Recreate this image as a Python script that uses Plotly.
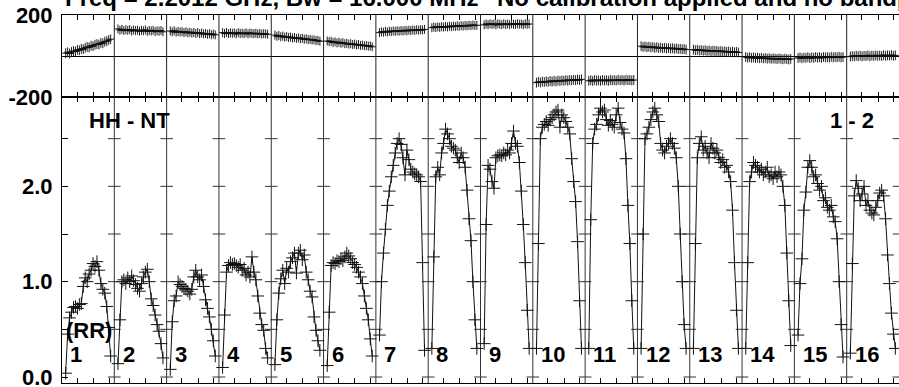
import plotly.graph_objects as go

# ---------------- data ----------------
if_labels = ["1", "2", "3", "4", "5", "6", "7", "8", "9", "10", "11", "12", "13", "14", "15", "16"]

amp_if1 = [0.04, 0.45, 0.62, 0.68, 0.73, 0.74, 0.72, 0.76, 0.77, 0.95, 1.04, 1.00, 1.08, 1.12, 1.19, 1.16, 1.21, 1.12, 0.98, 0.92, 0.88, 0.74, 0.52, 0.22]
amp_if2 = [0.14, 0.60, 1.00, 1.02, 0.98, 1.04, 1.00, 1.06, 1.01, 0.97, 0.93, 0.90, 0.98, 1.05, 1.10, 1.13, 1.00, 0.82, 0.75, 0.65, 0.55, 0.48, 0.35, 0.20]
amp_if3 = [0.08, 0.58, 0.80, 0.85, 1.00, 0.97, 0.95, 0.93, 0.92, 0.90, 0.87, 0.92, 1.05, 1.12, 1.05, 1.02, 1.07, 0.95, 0.81, 0.72, 0.63, 0.50, 0.38, 0.22]
amp_if4 = [0.10, 0.65, 1.10, 1.17, 1.20, 1.18, 1.19, 1.17, 1.15, 1.18, 1.12, 1.14, 1.07, 1.10, 1.05, 1.26, 1.10, 1.02, 0.85, 0.67, 0.55, 0.49, 0.30, 0.20]
amp_if5 = [0.13, 0.60, 0.88, 1.03, 1.12, 0.98, 1.14, 1.10, 1.21, 1.25, 1.30, 1.09, 1.30, 1.33, 1.23, 1.28, 1.10, 1.02, 0.90, 0.84, 0.63, 0.49, 0.38, 0.28]
amp_if6 = [0.12, 0.68, 1.17, 1.20, 1.19, 1.22, 1.21, 1.24, 1.22, 1.26, 1.30, 1.27, 1.24, 1.20, 1.18, 1.15, 1.10, 1.05, 0.98, 0.85, 0.72, 0.60, 0.40, 0.22]
amp_if7 = [0.44, 1.00, 1.30, 1.55, 1.80, 1.95, 2.10, 2.22, 2.35, 2.45, 2.50, 2.44, 2.30, 2.12, 2.38, 2.28, 2.18, 2.15, 2.13, 2.12, 2.10, 2.05, 1.20, 0.28]
amp_if8 = [0.30, 1.26, 2.10, 2.20, 2.12, 2.35, 2.45, 2.60, 2.55, 2.50, 2.42, 2.40, 2.38, 2.30, 2.25, 2.35, 2.30, 2.20, 1.96, 1.66, 1.43, 1.00, 0.60, 0.30]
amp_if9 = [0.35, 1.60, 2.22, 2.18, 2.05, 1.98, 2.30, 2.32, 2.33, 2.32, 2.35, 2.33, 2.38, 2.35, 2.45, 2.58, 2.45, 2.42, 2.25, 1.95, 1.60, 1.20, 0.70, 0.30]
amp_if10 = [0.30, 1.40, 2.50, 2.62, 2.65, 2.68, 2.64, 2.70, 2.72, 2.75, 2.78, 2.80, 2.62, 2.75, 2.72, 2.68, 2.62, 2.55, 2.29, 2.05, 1.84, 1.42, 0.80, 0.30]
amp_if11 = [0.30, 1.65, 2.45, 2.60, 2.65, 2.75, 2.82, 2.78, 2.80, 2.70, 2.64, 2.69, 2.65, 2.62, 2.75, 2.82, 2.67, 2.60, 2.56, 2.29, 1.80, 1.40, 0.80, 0.30]
amp_if12 = [0.30, 1.50, 2.50, 2.55, 2.62, 2.70, 2.78, 2.82, 2.75, 2.68, 2.45, 2.38, 2.35, 2.42, 2.45, 2.50, 2.45, 2.40, 2.30, 2.00, 1.50, 1.00, 0.55, 0.30]
amp_if13 = [0.30, 1.40, 2.30, 2.45, 2.52, 2.38, 2.42, 2.35, 2.30, 2.45, 2.40, 2.35, 2.38, 2.30, 2.25, 2.28, 2.20, 2.22, 2.15, 2.05, 1.75, 1.20, 0.70, 0.30]
amp_if14 = [0.30, 1.20, 2.05, 2.15, 2.25, 2.22, 2.20, 2.15, 2.18, 2.12, 2.15, 2.20, 2.10, 2.12, 2.08, 2.15, 2.10, 2.15, 2.12, 2.00, 1.80, 1.30, 0.80, 0.33]
amp_if15 = [0.44, 0.98, 1.24, 1.75, 1.94, 2.20, 2.27, 2.20, 2.10, 2.12, 2.03, 1.96, 2.00, 1.85, 1.88, 1.78, 1.75, 1.80, 1.68, 1.63, 1.45, 1.00, 0.55, 0.21]
amp_if16 = [0.25, 1.19, 1.90, 2.06, 1.98, 1.85, 1.92, 2.00, 1.80, 1.85, 1.75, 1.72, 1.70, 1.78, 1.85, 1.93, 1.96, 1.90, 1.66, 1.28, 0.98, 0.67, 0.45, 0.30]

phase_if1 = [14, 18, 12, 20, 24, 22, 30, 28, 35, 33, 40, 44, 42, 50, 48, 55, 58, 56, 64, 62, 70, 72, 78, 82]
phase_if2 = [132, 126, 130, 124, 128, 125, 129, 122, 127, 124, 126, 121, 125, 123, 127, 120, 124, 122, 125, 119, 123, 121, 124, 118]
phase_if3 = [122, 118, 123, 116, 120, 117, 119, 114, 118, 113, 116, 112, 115, 110, 114, 109, 112, 108, 110, 106, 109, 104, 107, 103]
phase_if4 = [114, 110, 115, 109, 113, 111, 112, 108, 114, 110, 111, 109, 113, 108, 112, 110, 109, 111, 108, 110, 107, 109, 108, 106]
phase_if5 = [102, 96, 100, 94, 97, 92, 95, 90, 92, 88, 90, 86, 88, 84, 86, 82, 84, 80, 81, 78, 79, 75, 76, 72]
phase_if6 = [73, 70, 72, 66, 69, 64, 67, 62, 65, 60, 62, 58, 60, 56, 58, 54, 56, 52, 53, 50, 51, 48, 49, 45]
phase_if7 = [114, 118, 116, 120, 117, 121, 119, 122, 120, 123, 121, 124, 122, 125, 123, 126, 124, 127, 125, 128, 126, 129, 127, 130]
phase_if8 = [138, 141, 139, 142, 140, 143, 141, 144, 142, 145, 143, 146, 144, 147, 145, 148, 146, 149, 147, 150, 148, 151, 149, 150]
phase_if9 = [152, 156, 153, 157, 154, 156, 152, 157, 155, 153, 157, 154, 156, 153, 157, 155, 154, 158, 155, 156, 153, 157, 155, 156]
phase_if10 = [-130, -126, -129, -125, -127, -124, -126, -122, -125, -121, -124, -120, -122, -119, -121, -118, -120, -117, -119, -116, -118, -115, -117, -114]
phase_if11 = [-121, -118, -122, -117, -120, -119, -121, -117, -120, -118, -121, -117, -119, -118, -120, -116, -119, -117, -120, -116, -118, -117, -119, -117]
phase_if12 = [48, 44, 47, 43, 45, 42, 44, 40, 43, 39, 41, 38, 40, 37, 39, 36, 38, 35, 37, 34, 35, 33, 34, 31]
phase_if13 = [31, 28, 30, 27, 29, 26, 28, 25, 27, 24, 26, 24, 25, 22, 24, 21, 23, 20, 22, 19, 21, 18, 20, 17]
phase_if14 = [-5, -8, -6, -9, -7, -10, -8, -11, -9, -12, -10, -13, -11, -14, -12, -13, -15, -12, -14, -16, -13, -15, -17, -14]
phase_if15 = [-10, -7, -11, -8, -9, -6, -10, -7, -9, -5, -8, -6, -9, -5, -7, -6, -8, -4, -7, -5, -6, -4, -7, -5]
phase_if16 = [-3, 0, -2, 1, -1, 2, -2, 1, 0, 3, -1, 2, 0, 3, 1, 2, 0, 4, 1, 3, 2, 4, 1, 3]

phase_err_per_if = [24, 22, 22, 22, 22, 22, 22, 22, 22, 24, 24, 24, 24, 24, 24, 24]

amp_tickvals = [0.0, 0.5, 1.0, 1.5, 2.0, 2.5]
amp_ticktext = ["0.0", "", "1.0", "", "2.0", ""]
phase_tickvals = [-200, 200]
phase_ticktext = ["-200", "200"]

title_left = "Freq = 2.2012 GHz, Bw = 16.000 MHz"
title_right = "No calibration applied and no bandpass applied"
baseline_label = "HH - NT"
page_label = "1 - 2"
stokes_label = "(RR)"

amps = [amp_if1, amp_if2, amp_if3, amp_if4, amp_if5, amp_if6, amp_if7, amp_if8,
        amp_if9, amp_if10, amp_if11, amp_if12, amp_if13, amp_if14, amp_if15, amp_if16]
phases = [phase_if1, phase_if2, phase_if3, phase_if4, phase_if5, phase_if6, phase_if7, phase_if8,
          phase_if9, phase_if10, phase_if11, phase_if12, phase_if13, phase_if14, phase_if15, phase_if16]

# ---------------- layout geometry ----------------
W, H = 899, 387
ML, MR, MT, MB = 62, 0, 15, 4
PH = H - MT - MB
split = 1 - 82 / PH
AMP_RANGE = [-0.0628, 2.937]
PH_RANGE = [-200, 200]
NIF = len(amps)
FONT = "Liberation Sans, Arial, sans-serif"

def chan_x(k, n):
    return [k + 0.07 + c * 0.86 / (n - 1) for c in range(n)]

ax, ay, px, py, pe = [], [], [], [], []
for k in range(NIF):
    xs = chan_x(k, len(amps[k]))
    ax += xs + [None]
    ay += amps[k] + [None]
    xs2 = chan_x(k, len(phases[k]))
    px += xs2 + [None]
    py += phases[k] + [None]
    pe += [phase_err_per_if[k]] * len(phases[k]) + [0]

fig = go.Figure()

# separators
sx_a, sy_a, sx_p, sy_p = [], [], [], []
for b in range(1, NIF):
    sx_a += [b, b, None]
    sy_a += [AMP_RANGE[0], AMP_RANGE[1], None]
    sx_p += [b, b, None]
    sy_p += [PH_RANGE[0], PH_RANGE[1], None]
fig.add_trace(go.Scatter(x=sx_a, y=sy_a, mode="lines", line=dict(color="#333", width=1),
                         hoverinfo="skip", showlegend=False, xaxis="x", yaxis="y"))
fig.add_trace(go.Scatter(x=sx_p, y=sy_p, mode="lines", line=dict(color="#222", width=1),
                         hoverinfo="skip", showlegend=False, xaxis="x2", yaxis="y2"))

# ticks on separators (amplitude panel)
tx, ty = [], []
for b in range(1, NIF + 1):
    for v in amp_tickvals:
        tx.append(b)
        ty.append(v)
fig.add_trace(go.Scatter(x=tx, y=ty, mode="markers",
                         marker=dict(symbol="line-ew", size=9, line=dict(color="#333", width=1)),
                         hoverinfo="skip", showlegend=False, xaxis="x", yaxis="y"))

# amplitude data
fig.add_trace(go.Scatter(x=ax, y=ay, mode="lines+markers",
                         line=dict(color="#111", width=1),
                         marker=dict(symbol="cross-thin", size=9, line=dict(color="#111", width=1)),
                         connectgaps=False, showlegend=False, xaxis="x", yaxis="y"))

# phase data
fig.add_trace(go.Scatter(x=px, y=py, mode="lines+markers",
                         line=dict(color="#000", width=1.5),
                         marker=dict(symbol="line-ew", size=5, line=dict(color="#111", width=1)),
                         error_y=dict(type="data", array=pe, visible=True, color="#222", thickness=1, width=0),
                         connectgaps=False, showlegend=False, xaxis="x2", yaxis="y2"))

minor = []
for k in range(NIF):
    minor += [k + 0.29, k + 0.6, k + 0.9]

xcommon = dict(range=[0, NIF], showgrid=False, zeroline=False, showline=True, linecolor="black",
               linewidth=1, mirror="ticks", ticks="inside", tickvals=minor, ticklen=5,
               tickcolor="black", showticklabels=False, automargin=False)
tickfont = dict(family=FONT, size=22, color="black", weight="bold")

fig.update_layout(
    width=W, height=H, margin=dict(l=ML, r=MR, t=MT, b=MB, autoexpand=False),
    paper_bgcolor="white", plot_bgcolor="white",
    xaxis=dict(domain=[0, 1], anchor="y", **xcommon),
    xaxis2=dict(domain=[0, 1], anchor="y2", matches="x", **xcommon),
    yaxis=dict(domain=[0, split], range=AMP_RANGE, tickvals=amp_tickvals, ticktext=amp_ticktext,
               ticks="inside", ticklen=6, tickcolor="black", showline=True, linecolor="black",
               mirror=True, showgrid=False, zeroline=False, tickfont=tickfont, ticklabelstandoff=4,
               ticklabeloverflow="allow", automargin=False),
    yaxis2=dict(domain=[split, 1], range=PH_RANGE, tickvals=phase_tickvals, ticktext=phase_ticktext,
                ticks="", showline=True, linecolor="black", mirror=True, showgrid=False,
                zeroline=True, zerolinecolor="black", zerolinewidth=1, tickfont=tickfont,
                ticklabelstandoff=4, ticklabeloverflow="allow", automargin=False),
    showlegend=False,
)

ann_font = dict(family=FONT, size=22, color="black")
title_font = dict(family=FONT, size=24, color="black")
title_y = 1 + 17 / PH
fig.add_annotation(text="<b>" + title_left + "</b>", xref="paper", yref="paper",
                   x=(63 - ML) / (W - ML - MR), y=title_y, xanchor="left", yanchor="middle",
                   showarrow=False, font=title_font)
fig.add_annotation(text="<b>" + title_right + "</b>", xref="paper", yref="paper",
                   x=(495 - ML) / (W - ML - MR), y=title_y, xanchor="left", yanchor="middle",
                   showarrow=False, font=title_font)
fig.add_annotation(text="<b>" + baseline_label + "</b>", xref="x", yref="y", x=0.48, y=2.69,
                   xanchor="left", yanchor="middle", showarrow=False, font=ann_font)
fig.add_annotation(text="<b>" + page_label + "</b>", xref="x", yref="y", x=15.56, y=2.69,
                   xanchor="right", yanchor="middle", showarrow=False, font=ann_font)
fig.add_annotation(text="<b>" + stokes_label + "</b>", xref="x", yref="y", x=0.03, y=0.49,
                   xanchor="left", yanchor="middle", showarrow=False, font=ann_font)
for k, lab in enumerate(if_labels):
    fig.add_annotation(text="<b>" + lab + "</b>", xref="x", yref="y", x=k + 0.12, y=0.24,
                       xanchor="left", yanchor="middle", showarrow=False, font=ann_font)

fig.write_html(
    "out.html",
    config={"displayModeBar": False},
    post_script="document.body.style.margin='0';document.body.style.overflow='hidden';",
)
